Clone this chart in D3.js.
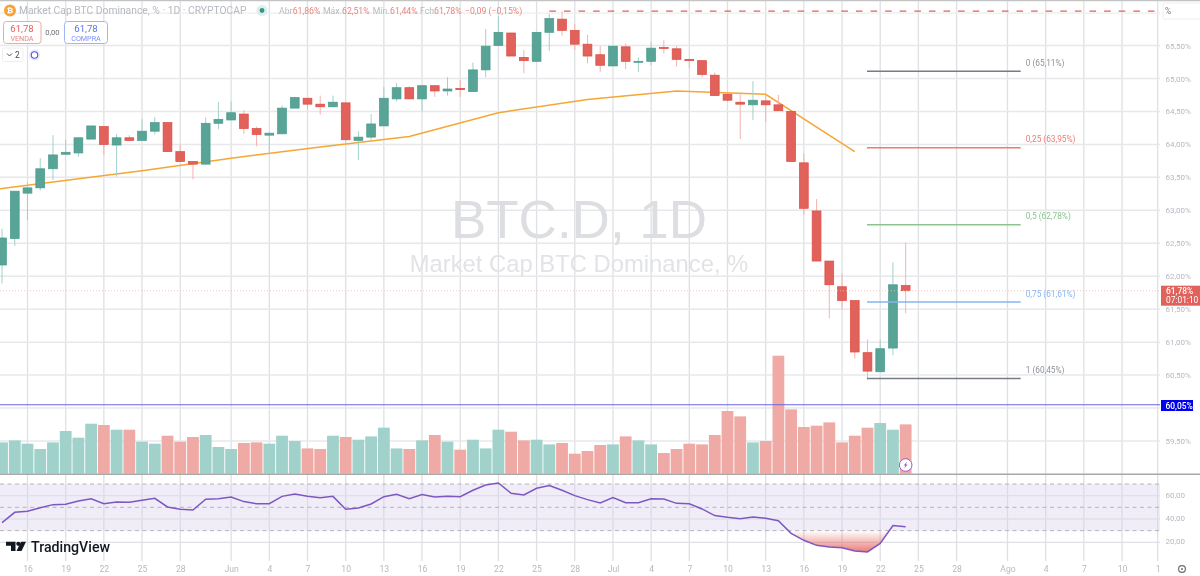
<!DOCTYPE html>
<html>
<head>
    <title>BTC.D</title>
    <script src="https://d3js.org/d3.v7.min.js"></script>
    <style>
        html, body { margin: 0; padding: 0; background: #fff; overflow: hidden; }
        svg { display: block; filter: blur(0.4px); }
        text { font-family: Roboto, "Liberation Sans", sans-serif; }
        .domain { display: none; }
        .muted { fill: #b6b9c1; }
        .redtxt { fill: #e98680; }
    </style>
</head>
<body>
    <svg id="chart" width="1200" height="576"></svg>

    <script>
        // candles, one per day, first one is 14 May
        var opens = [62.17,62.57,63.26,63.34,63.63,63.85,63.87,64.08,64.27,63.99,64.10,64.06,
            64.20,64.33,63.89,63.74,63.70,64.32,64.37,64.46,64.24,64.14,64.16,64.55,
            64.70,64.61,64.57,64.63,64.06,64.11,64.28,64.69,64.86,64.69,64.89,64.81,
            64.85,64.80,65.13,65.50,65.69,65.32,65.26,65.70,65.90,65.73,65.52,65.36,
            65.19,65.48,65.25,65.26,65.47,65.45,65.29,65.27,65.05,64.76,64.64,64.60,
            64.66,64.60,64.50,63.72,62.99,62.23,61.84,61.63,60.84,60.55,60.91,61.86];
        var highs = [62.72,63.29,63.42,63.79,64.14,64.07,64.10,64.28,64.27,64.16,64.14,64.38,
            64.41,64.33,64.00,63.74,64.41,64.64,64.65,64.52,64.27,64.17,64.59,64.72,
            64.70,64.74,64.74,64.63,64.20,64.46,64.87,64.93,64.88,64.89,64.89,65.02,
            64.98,65.24,65.75,65.94,65.69,65.43,65.70,65.98,66.02,65.83,65.66,65.49,
            65.49,65.53,65.32,65.55,65.58,65.49,65.29,65.27,65.09,64.76,64.79,64.96,
            64.76,64.75,64.50,63.86,63.17,62.23,62.04,61.63,61.04,61.04,62.21,62.51];
        var lows = [61.89,62.46,62.85,63.30,63.46,63.84,63.81,64.08,63.84,63.51,64.06,64.06,
            64.15,63.89,63.74,63.47,63.70,64.23,64.37,64.16,63.97,63.86,64.16,64.55,
            64.53,64.45,64.57,64.00,63.76,64.06,64.28,64.65,64.69,64.50,64.72,64.74,
            64.72,64.80,65.02,65.50,65.34,65.08,65.26,65.42,65.65,65.43,65.23,65.10,
            65.19,65.14,65.10,65.20,65.38,65.18,65.15,65.02,64.74,64.65,64.08,64.37,
            64.34,64.51,63.74,62.93,62.23,61.36,61.49,60.75,60.43,60.55,60.80,61.44];
        var closes = [62.58,63.29,63.34,63.63,63.84,63.88,64.10,64.28,64.00,64.10,64.06,64.20,
            64.33,63.89,63.74,63.70,64.32,64.38,64.48,64.24,64.15,64.17,64.55,64.71,
            64.61,64.57,64.64,64.07,64.11,64.31,64.70,64.86,64.69,64.89,64.81,64.84,
            64.83,65.13,65.49,65.70,65.34,65.27,65.70,65.91,65.73,65.52,65.34,65.20,
            65.49,65.26,65.26,65.46,65.46,65.29,65.27,65.06,64.74,64.67,64.61,64.67,
            64.60,64.51,63.74,63.03,62.23,61.87,61.63,60.85,60.56,60.90,61.87,61.78];
        var volumes = [31.3,33.3,30,24.7,31.3,42.7,36,50,48.7,44,44,32,
            30,38,32,36.7,38.7,26.7,24.7,30.7,31.3,30,38,32.7,
            25.3,24.7,38,36.7,34,37.3,46,25.3,24.7,33.3,38.7,32,
            24,34,25.3,44,42,33.3,34,29.3,30.7,20,22.7,28.7,
            29.3,37.3,33.3,29.3,20.7,24.7,30,29.3,38.7,62.7,57.3,31.3,
            32.7,118,64.3,46.7,48,51.3,31.3,38,46,50.7,44,49.3];
        var rsiValues = [36.9,45.7,46.6,49.7,52.3,52.6,55.4,57.4,53.1,54.6,54.3,56,
            57.7,50.3,48.3,47.7,56.9,57.4,58.9,54.9,53.1,53.1,59.4,61.4,
            59.4,58.3,59.4,48.3,49.4,52.9,59.1,61.1,57.4,60.9,58.9,59.4,
            59.1,64.6,69.1,70.9,62,60.6,66.3,68.6,64.6,60,56.6,53.7,
            58.3,54,54,57.4,57.1,53.4,53.1,48.6,42.9,41.4,40.3,41.7,
            40.6,38.5,27.7,21.7,17.4,16,15.4,12.6,11.7,19.1,34.3,33.4];

        // weekly average line, only these days are nodes
        var maDays = [-3,0,4,11,18,25,32,39,46,53,60,67];
        var maValues = [63.25,63.33,63.43,63.60,63.79,63.96,64.12,64.48,64.68,64.81,64.76,63.89];

        var priceTicks = [59.5,60,60.5,61,61.5,62,62.5,63,63.5,64,64.5,65,65.5];
        var priceTickShown = [59.5,60.5,61,61.5,62,62.5,63,63.5,64,64.5,65,65.5];
        var rsiTicks = [20,40,60];
        var rsiDashes = [30,50,70];

        var dayTicks = [2,5,8,11,14,18,21,24,27,30,33,36,39,42,45,48,51,54,57,60,63,66,69,72,75,79,82,85,88,90.8];
        var dayLabels = ["16","19","22","25","28","Jun","4","7","10","13","16","19","22","25","28","Jul","4","7","10","13","16","19","22","25","28","Ago","4","7","10","1"];

        var fibLevels = [65.11,63.95,62.78,61.61,60.45];
        var fibNames = ["0 (65,11%)","0,25 (63,95%)","0,5 (62,78%)","0,75 (61,61%)","1 (60,45%)"];
        var fibColors = ["#787b86","#ee7a72","#8cc48e","#86b6f2","#787b86"];
        var fibStart = 68;

        var lastPrice = 61.78, alertPrice = 60.05, topDashPrice = 66.02, topDashStart = 43;

        var GREEN = "#58a497", GREEN_EDGE = "#4a9a8d", RED = "#e1625b", RED_EDGE = "#dd4a43";
        var RIGHT = 1160;

        var svg = d3.select("#chart");
        var x = d3.scaleLinear().domain([0, 91]).range([2.05, 1160.2]);
        var y = d3.scaleLinear().domain([59.5, 65.5]).range([441, 45.5]);
        var yVol = d3.scaleLinear().domain([0, 118]).range([473.7, 355.7]);
        var yRsi = d3.scaleLinear().domain([20, 70]).range([542.3, 484]);

        var days = d3.range(opens.length);
        function isUp(i) { return closes[i] >= opens[i]; }
        function fmt(v) { return v.toFixed(2).replace(".", ","); }

        // top border + grid
        svg.append("line").attr("x1", 0).attr("x2", 1200).attr("y1", 0.5).attr("y2", 0.5).attr("stroke", "#c4c4c4").attr("stroke-width", 1.5);
        svg.append("g").selectAll("line").data(dayTicks).join("line")
            .attr("x1", d => x(d)).attr("x2", d => x(d)).attr("y1", 1).attr("y2", 561)
            .attr("stroke", "#dfe0e3").attr("stroke-width", 1.3);
        svg.append("g").selectAll("line").data(priceTicks).join("line")
            .attr("x1", 0).attr("x2", RIGHT).attr("y1", d => y(d)).attr("y2", d => y(d))
            .attr("stroke", "#e7e8eb").attr("stroke-width", 1.5);
        svg.append("line").attr("x1", 0).attr("x2", RIGHT).attr("y1", y(66.02) + 2).attr("y2", y(66.02) + 2).attr("stroke", "#eeeeee").attr("stroke-width", 1.2);

        // watermark
        svg.append("text").attr("x", 579).attr("y", 238.3).attr("text-anchor", "middle")
            .style("font-family", "'Liberation Sans'").style("font-size", "53px").attr("fill", "#dcdee1").text("BTC.D, 1D");
        svg.append("text").attr("x", 579).attr("y", 272.3).attr("text-anchor", "middle")
            .style("font-family", "'Liberation Sans'").style("font-size", "23.8px").attr("fill", "#e2e3e6").text("Market Cap BTC Dominance, %");

        // volume
        svg.append("g").selectAll("rect").data(days).join("rect")
            .attr("x", i => x(i) - 5.9).attr("width", 11.8)
            .attr("y", i => yVol(volumes[i])).attr("height", i => yVol(0) - yVol(volumes[i]))
            .attr("fill", i => isUp(i) ? "#a0d2cb" : "#efaaa5");

        // orange average
        var maLine = d3.line().x((d, i) => x(maDays[i])).y(d => y(d));
        svg.append("path").datum(maValues).attr("d", maLine).attr("fill", "none").attr("stroke", "#f5a733").attr("stroke-width", 1.5);

        // candles
        svg.append("g").selectAll("line").data(days).join("line")
            .attr("x1", i => x(i)).attr("x2", i => x(i))
            .attr("y1", i => y(highs[i])).attr("y2", i => y(lows[i]))
            .attr("stroke", i => isUp(i) ? "#a3d1ca" : "#f4b3af").attr("stroke-width", 1);
        svg.append("g").selectAll("rect").data(days).join("rect")
            .attr("x", i => x(i) - 4.4).attr("width", 8.8)
            .attr("y", i => y(Math.max(opens[i], closes[i])))
            .attr("height", i => Math.max(1, Math.abs(y(opens[i]) - y(closes[i]))))
            .attr("fill", i => isUp(i) ? GREEN : RED)
            .attr("stroke", i => isUp(i) ? GREEN_EDGE : RED_EDGE).attr("stroke-width", 0.7);

        // top dashed line, last price dots, alert line
        svg.append("line").attr("x1", x(topDashStart)).attr("x2", RIGHT).attr("y1", y(topDashPrice)).attr("y2", y(topDashPrice))
            .attr("stroke", "#e2605a").attr("stroke-width", 1.3).attr("stroke-dasharray", "6.6 8");
        svg.append("line").attr("x1", 0).attr("x2", RIGHT).attr("y1", y(lastPrice)).attr("y2", y(lastPrice))
            .attr("stroke", "#f3b9b5").attr("stroke-width", 0.8).attr("stroke-dasharray", "1 2");
        svg.append("line").attr("x1", 0).attr("x2", RIGHT).attr("y1", y(alertPrice)).attr("y2", y(alertPrice))
            .attr("stroke", "#6a63e6").attr("stroke-width", 1.1);

        // fib levels
        var fib = svg.append("g");
        fibLevels.forEach(function(level, i) {
            fib.append("line").attr("x1", x(fibStart) - 0.5).attr("x2", 1020.7).attr("y1", y(level)).attr("y2", y(level))
                .attr("stroke", fibColors[i]).attr("stroke-width", 1.5);
            fib.append("text").attr("x", 1025.7).attr("y", y(level) - 5.3).style("font-size", "8.3px")
                .attr("fill", fibColors[i] == "#787b86" ? "#8f929b" : fibColors[i]).text(fibNames[i]);
        });

        // pane separator
        svg.append("line").attr("x1", 0).attr("x2", 1200).attr("y1", 474.3).attr("y2", 474.3).attr("stroke", "#a8a8a8").attr("stroke-width", 1.6);

        // rsi pane
        svg.append("rect").attr("x", 0).attr("width", RIGHT).attr("y", yRsi(70)).attr("height", yRsi(30) - yRsi(70)).attr("fill", "#f0edf8");
        svg.append("g").selectAll("line").data(dayTicks).join("line")
            .attr("x1", d => x(d)).attr("x2", d => x(d)).attr("y1", yRsi(70)).attr("y2", yRsi(30))
            .attr("stroke", "#dcdae6").attr("stroke-width", 1.3);
        svg.append("g").selectAll("line").data(rsiTicks).join("line")
            .attr("x1", 0).attr("x2", RIGHT).attr("y1", d => yRsi(d)).attr("y2", d => yRsi(d))
            .attr("stroke", "#dfdfe6").attr("stroke-width", 1.3);
        svg.append("g").selectAll("line").data(rsiDashes).join("line")
            .attr("x1", 0).attr("x2", RIGHT).attr("y1", d => yRsi(d)).attr("y2", d => yRsi(d))
            .attr("stroke", "#b4b4b8").attr("stroke-width", 1).attr("stroke-dasharray", "4 3.5");

        var defs = svg.append("defs");
        defs.append("clipPath").attr("id", "below30").append("rect")
            .attr("x", 0).attr("width", RIGHT).attr("y", yRsi(30)).attr("height", 60);
        var grad = defs.append("linearGradient").attr("id", "oversold")
            .attr("gradientUnits", "userSpaceOnUse").attr("x1", 0).attr("x2", 0).attr("y1", yRsi(30)).attr("y2", yRsi(11));
        grad.append("stop").attr("offset", 0).attr("stop-color", "#e5605a").attr("stop-opacity", 0);
        grad.append("stop").attr("offset", 1).attr("stop-color", "#e5605a").attr("stop-opacity", 0.85);

        var rsiArea = d3.area().x((d, i) => x(i)).y0(yRsi(30)).y1(d => yRsi(d));
        svg.append("path").datum(rsiValues).attr("d", rsiArea).attr("fill", "url(#oversold)").attr("clip-path", "url(#below30)");
        var rsiLine = d3.line().x((d, i) => x(i)).y(d => yRsi(d));
        svg.append("path").datum(rsiValues).attr("d", rsiLine).attr("fill", "none").attr("stroke", "#7e57c2").attr("stroke-width", 1.5);

        // axes
        var priceAxis = d3.axisRight(y).tickValues(priceTickShown).tickSize(0).tickPadding(0).tickFormat(d => fmt(d) + "%");
        var gp = svg.append("g").attr("transform", "translate(1165.5,0)").call(priceAxis);
        gp.selectAll("text").attr("class", "muted").style("font-size", "8px");

        var rsiAxis = d3.axisRight(yRsi).tickValues(rsiTicks).tickSize(0).tickPadding(0).tickFormat(fmt);
        var gr = svg.append("g").attr("transform", "translate(1165.5,-1)").call(rsiAxis);
        gr.selectAll("text").attr("class", "muted").style("font-size", "8px");

        var dayAxis = d3.axisBottom(x).tickValues(dayTicks).tickSize(0).tickPadding(0).tickFormat((d, i) => dayLabels[i]);
        var gd = svg.append("g").attr("transform", "translate(0,566)").call(dayAxis);
        gd.selectAll("text").attr("class", "muted").style("font-size", "8.6px");

        // price tags
        svg.append("rect").attr("x", 1161).attr("y", 285.7).attr("width", 39).attr("height", 20).attr("fill", "#e1625b");
        svg.append("text").attr("x", 1166).attr("y", 294).attr("fill", "#fff").style("font-size", "8.4px").style("font-weight", 500).text(fmt(lastPrice) + "%");
        svg.append("text").attr("x", 1166).attr("y", 303).attr("fill", "#fff").style("font-size", "8.4px").text("07:01:10");
        svg.append("rect").attr("x", 1161).attr("y", 400).attr("width", 32).attr("height", 11).attr("fill", "#0000f0");
        svg.append("text").attr("x", 1165.5).attr("y", 408.7).attr("fill", "#fff").style("font-size", "8.4px").style("font-weight", 500).text(fmt(alertPrice) + "%");

        // % box + gear
        svg.append("rect").attr("x", 1163).attr("y", 3).attr("width", 40).attr("height", 16).attr("rx", 2).attr("fill", "#fff").attr("stroke", "#eeeeee");
        svg.append("text").attr("x", 1165).attr("y", 13.5).attr("fill", "#777").style("font-size", "8.4px").text("%");
        svg.append("circle").attr("cx", 1182).attr("cy", 569).attr("r", 3.4).attr("fill", "none").attr("stroke", "#6b6e76").attr("stroke-width", 1.2);
        svg.append("circle").attr("cx", 1182).attr("cy", 569).attr("r", 1).attr("fill", "#6b6e76");

        // lightning badge on last bar
        svg.append("circle").attr("cx", x(71)).attr("cy", 465).attr("r", 6.3).attr("fill", "#fff").attr("stroke", "#9c5cc8").attr("stroke-width", 1);
        svg.append("path").attr("transform", "translate(" + x(71) + ",465)").attr("d", "M1.6 -3.4 L-2 0.6 H-0.2 L-1.4 3.4 L2 -0.6 H0.2 Z").attr("fill", "#9c5cc8");

        // header
        svg.append("circle").attr("cx", 10).attr("cy", 10.5).attr("r", 6).attr("fill", "#f7a23b");
        svg.append("text").attr("x", 10).attr("y", 13.3).attr("text-anchor", "middle").attr("fill", "#fff").style("font-size", "8px").style("font-weight", 700).text("₿");
        svg.append("text").attr("x", 19).attr("y", 14.3).attr("class", "muted").style("font-size", "10.3px").text("Market Cap BTC Dominance, % · 1D · CRYPTOCAP");
        svg.append("circle").attr("cx", 262).attr("cy", 10.5).attr("r", 5.5).attr("fill", "#dcefec");
        svg.append("circle").attr("cx", 262).attr("cy", 10.5).attr("r", 2.4).attr("fill", "#3d9488");

        var ohlcLabels = ["Abr", "Máx.", "Mín.", "Fch"];
        var ohlcLabelX = [279, 323, 372.7, 420];
        var ohlcValues = ["61,86%", "62,51%", "61,44%", "61,78%"];
        var ohlcValueX = [292.7, 342, 390, 434];
        ohlcLabels.forEach(function(label, i) {
            svg.append("text").attr("x", ohlcLabelX[i]).attr("y", 13.7).attr("class", "muted").style("font-size", "8.7px").text(label);
            svg.append("text").attr("x", ohlcValueX[i]).attr("y", 13.7).attr("class", "redtxt").style("font-size", "8.7px").text(ohlcValues[i]);
        });
        svg.append("text").attr("x", 465).attr("y", 13.7).attr("class", "redtxt").style("font-size", "8.7px").text("−0,09 (−0,15%)");

        // sell / buy boxes
        svg.append("rect").attr("x", 3.5).attr("y", 21.5).attr("width", 37.5).attr("height", 22).attr("rx", 3).attr("fill", "#fff").attr("stroke", "#f0a8a3");
        svg.append("text").attr("x", 22).attr("y", 32).attr("text-anchor", "middle").attr("fill", "#e5605a").style("font-size", "9.6px").text("61,78");
        svg.append("text").attr("x", 22).attr("y", 40.5).attr("text-anchor", "middle").attr("fill", "#e98680").style("font-size", "7.2px").text("VENDA");
        svg.append("text").attr("x", 52.5).attr("y", 35).attr("text-anchor", "middle").attr("fill", "#6b6e76").style("font-size", "7.6px").text("0,00");
        svg.append("rect").attr("x", 64.5).attr("y", 21.5).attr("width", 43).attr("height", 22).attr("rx", 3).attr("fill", "#fff").attr("stroke", "#a3b4f5");
        svg.append("text").attr("x", 86).attr("y", 32).attr("text-anchor", "middle").attr("fill", "#5b72ee").style("font-size", "9.6px").text("61,78");
        svg.append("text").attr("x", 86).attr("y", 40.5).attr("text-anchor", "middle").attr("fill", "#7d90f0").style("font-size", "7.2px").text("COMPRA");

        svg.append("rect").attr("x", 2.5).attr("y", 48).attr("width", 20.5).attr("height", 13.5).attr("rx", 2).attr("fill", "#fff").attr("stroke", "#eeeeee");
        svg.append("path").attr("d", "M7 53.5 L9.5 56 L12 53.5").attr("fill", "none").attr("stroke", "#444").attr("stroke-width", 0.9);
        svg.append("text").attr("x", 15).attr("y", 58.3).attr("fill", "#444").style("font-size", "8.4px").text("2");
        svg.append("circle").attr("cx", 34.5).attr("cy", 55).attr("r", 5.6).attr("fill", "#e9e8fb");
        svg.append("circle").attr("cx", 34.5).attr("cy", 55).attr("r", 3.2).attr("fill", "#fff").attr("stroke", "#5a55dd").attr("stroke-width", 1.1);

        // logo
        var logo = svg.append("g").attr("fill", "#131722");
        logo.append("path").attr("d", "M6 541.7 H15.5 V551 H11 V545.7 H6 Z");
        logo.append("circle").attr("cx", 18.3).attr("cy", 543.8).attr("r", 2.1);
        logo.append("path").attr("d", "M21 541.7 H26 L21.5 551 H16.5 Z");
        logo.append("text").attr("x", 31).attr("y", 551.8).style("font-size", "14.2px").style("font-weight", 500).text("TradingView");
    </script>
</body>
</html>
